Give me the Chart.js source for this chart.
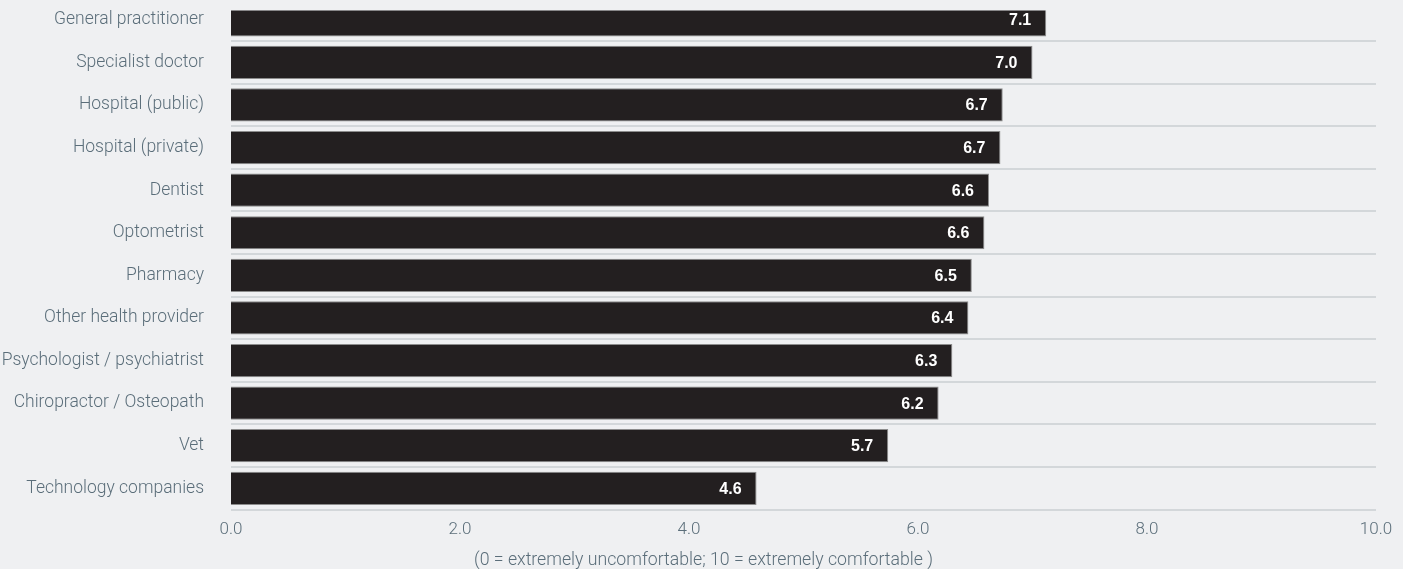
<!DOCTYPE html>
<html lang="en">
<head>
    <meta charset="UTF-8">
    <title>Comfort sharing health data</title>
    <script src="https://cdn.jsdelivr.net/npm/chart.js"></script>
    <style>
        body {
            margin: 0;
            padding: 0;
            background: #eff0f2;
            overflow: hidden;
        }

        .wrap {
            position: absolute;
            left: 0;
            top: -39px;
            width: 1403px;
            height: 613px;
        }
    </style>
</head>
<body>
    <div class="wrap">
        <canvas id="comfortChart" width="1403" height="613"></canvas>
    </div>

    <script>
        // Chart data
        const categories = [
            'General practitioner', 'Specialist doctor', 'Hospital (public)', 'Hospital (private)',
            'Dentist', 'Optometrist', 'Pharmacy', 'Other health provider',
            'Psychologist / psychiatrist', 'Chiropractor / Osteopath', 'Vet', 'Technology companies'
        ];
        const scores = [7.12, 7.0, 6.74, 6.72, 6.62, 6.58, 6.47, 6.44, 6.3, 6.18, 5.74, 4.59];
        const shownValues = ['7.1', '7.0', '6.7', '6.7', '6.6', '6.6', '6.5', '6.4', '6.3', '6.2', '5.7', '4.6'];
        const axisTitle = '(0 = extremely uncomfortable; 10 = extremely comfortable )';

        const labelColor = '#5b6e7a';
        const gridColor = '#d3d7da';
        const lightFont = { family: 'Roboto', size: 17.5, weight: 300 };

        // writes the value inside the end of each bar, plus the scale note under the axis
        const valueLabels = {
            id: 'valueLabels',
            afterDatasetsDraw(chart) {
                const ctx = chart.ctx;
                const meta = chart.getDatasetMeta(0);
                ctx.save();
                ctx.fillStyle = '#ffffff';
                ctx.font = 'bold 16px "Liberation Sans", Arial, sans-serif';
                ctx.textAlign = 'right';
                ctx.textBaseline = 'middle';
                meta.data.forEach((bar, i) => {
                    ctx.fillText(shownValues[i], bar.x - 15, bar.y + 1);
                });

                // note is centred on the whole picture, not on the plot
                ctx.fillStyle = labelColor;
                ctx.font = '300 17.7px Roboto';
                ctx.textAlign = 'center';
                ctx.fillText(axisTitle, chart.width / 2 + 2, chart.chartArea.bottom + 51);
                ctx.restore();
            }
        };

        const ctx = document.getElementById('comfortChart').getContext('2d');
        const myChart = new Chart(ctx, {
            type: 'bar',
            data: {
                labels: categories,
                datasets: [{
                    data: scores,
                    backgroundColor: '#231f20',
                    borderColor: '#8c8c8c',
                    borderWidth: 1,
                    barPercentage: 0.78,
                    categoryPercentage: 1,
                    clip: { left: 0, top: -12, right: 0, bottom: 0 }
                }]
            },
            options: {
                indexAxis: 'y',
                responsive: false,
                animation: false,
                layout: {
                    padding: { top: 0, right: 27, bottom: 32, left: 0 }
                },
                plugins: {
                    legend: { display: false },
                    tooltip: { enabled: false }
                },
                scales: {
                    x: {
                        min: 0,
                        max: 10,
                        ticks: {
                            stepSize: 2,
                            color: labelColor,
                            padding: 2,
                            font: { family: 'Roboto', size: 17, weight: 300 },
                            callback: (v) => Number(v).toFixed(1)
                        },
                        grid: { display: false },
                        border: { display: false }
                    },
                    y: {
                        afterFit(scale) {
                            scale.width = 231;
                        },
                        ticks: {
                            color: labelColor,
                            padding: 27,
                            font: lightFont
                        },
                        grid: {
                            color: gridColor,
                            lineWidth: 2,
                            drawTicks: false
                        },
                        border: { display: false }
                    }
                }
            },
            plugins: [valueLabels]
        });
    </script>
</body>
</html>
